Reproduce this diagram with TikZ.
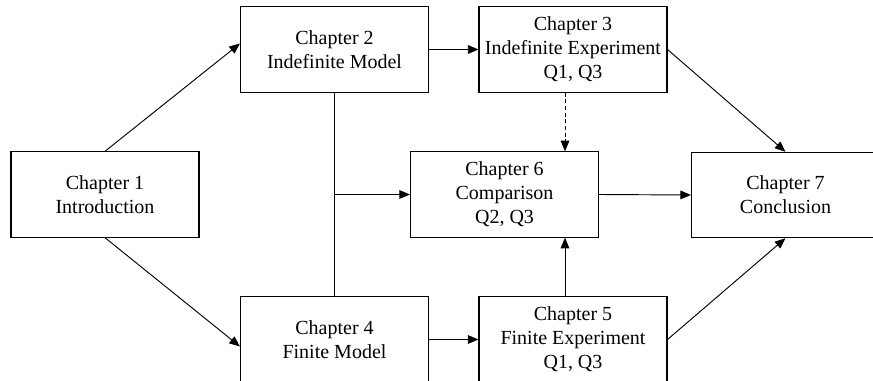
\documentclass[tikz,border=0pt]{standalone}
\usepackage{fontspec}
\setmainfont{Liberation Serif}
\usetikzlibrary{arrows.meta,calc}
\begin{document}
\begin{tikzpicture}[x=0.75pt,y=-0.75pt,
  chapbox/.style={draw, line width=0.8pt, inner sep=0pt, align=center,
    minimum width=141pt, minimum height=64pt,
    font=\fontsize{15}{18}\selectfont},
  link/.style={line width=0.7pt, -{Triangle[length=8pt,width=6.5pt]}},
  dashlink/.style={link, dash pattern=on 3pt off 2pt}]
\useasboundingbox (0,0) rectangle (873,381);
\clip (0,0) rectangle (873,381);

% chapter boxes
\node[chapbox] (ch1) at (105,194.5) {Chapter 1\\Introduction};
\node[chapbox] (ch2) at (334.5,49.5) {Chapter 2\\Indefinite Model};
\node[chapbox] (ch3) at (573,49.5) {Chapter 3\\Indefinite Experiment\\Q1, Q3};
\node[chapbox] (ch6) at (504.5,194.5) {Chapter 6\\Comparison\\Q2, Q3};
\node[chapbox] (ch7) at (785.5,195) {Chapter 7\\Conclusion};
\node[chapbox] (ch4) at (334.5,339.5) {Chapter 4\\Finite Model};
\node[chapbox] (ch5) at (573,339.5) {Chapter 5\\Finite Experiment\\Q1, Q3};

% x position of the vertical links into chapter 6
\coordinate (vx) at (565,0);

% connectors
\draw[link] (ch1.north) -- ($(ch2.west)+(0,-6)$);
\draw[link] (ch1.south) -- ($(ch4.west)+(0,7)$);
\draw[link] (ch2.east) -- (ch3.west);
\draw[line width=0.7pt] (ch2.south) -- (ch4.north);
\draw[link] (ch2.south |- ch6.west) -- (ch6.west);
\draw[dashlink] (ch3.south -| vx) -- (ch6.north -| vx);
\draw[link] (ch5.north -| vx) -- (ch6.south -| vx);
\draw[link] (ch4.east) -- (ch5.west);
\draw[link] (ch6.east) -- (ch7.west);
\draw[link] (ch3.east) -- (ch7.north);
\draw[link] (ch5.east) -- (ch7.south);
\end{tikzpicture}
\end{document}
